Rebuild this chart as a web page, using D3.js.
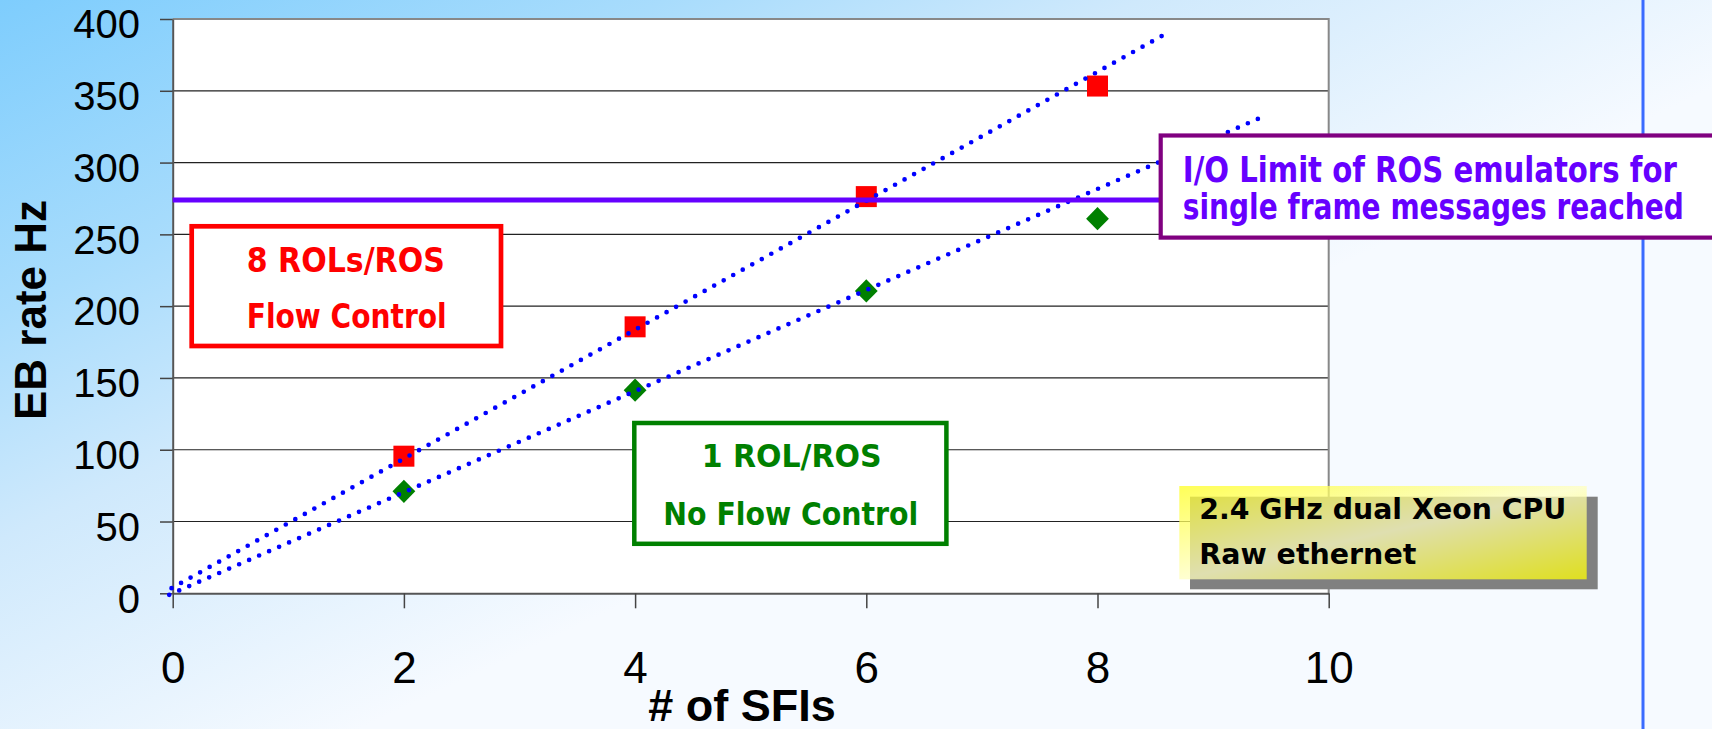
<html>
<head>
<meta charset="utf-8">
<script src="https://d3js.org/d3.v7.min.js"></script>
<style>
  body { margin: 0; overflow: hidden; }
  svg { display: block; }
</style>
</head>
<body></body>
<script>
const W = 1712, H = 729;

// data
const sfis = [2, 4, 6, 8];
const rate8Rol = [95.5, 185.6, 276.3, 353.3];   // 8 ROLs/ROS, flow control
const rate1Rol = [71, 141.5, 210.6, 260.9];     // 1 ROL/ROS, no flow control
const trendSlope = [44.9, 35.2];
const trendIntercept = [4, 0];
const trendFrom = [-0.01, -0.03];
const trendTo = [8.58, 9.41];
const ioLimit = 274;
const xTicks = [0, 2, 4, 6, 8, 10];
const yTicks = [0, 50, 100, 150, 200, 250, 300, 350, 400];
const xTitle = '# of SFIs';
const yTitle = 'EB rate Hz';
const redLabel = ['8 ROLs/ROS', 'Flow Control'];
const greenLabel = ['1 ROL/ROS', 'No Flow Control'];
const limitLabel = ['I/O Limit of ROS emulators for', 'single frame messages reached'];
const cpuLabel = ['2.4 GHz dual Xeon CPU', 'Raw ethernet'];

const plotL = 172.7, plotR = 1328.7, plotT = 19, plotB = 593.3;
const x = d3.scaleLinear().domain([0, 10]).range([plotL, plotR]);
const y = d3.scaleLinear().domain([0, 400]).range([plotB, plotT]);

const svg = d3.select('body').append('svg')
    .attr('width', W)
    .attr('height', H);

const defs = svg.append('defs');
const bg = defs.append('linearGradient')
    .attr('id', 'bg')
    .attr('gradientUnits', 'userSpaceOnUse')
    .attr('x1', 0).attr('y1', 0)
    .attr('x2', 348).attr('y2', 735);
[[0, '#7ecdfd'], [0.35, '#a8dcfc'], [0.6, '#cfe9fc'], [1, '#f6faff']].forEach(s => {
    bg.append('stop').attr('offset', s[0]).attr('stop-color', s[1]);
});
const yel = defs.append('linearGradient')
    .attr('id', 'yel')
    .attr('x1', 0).attr('y1', 0).attr('x2', 1).attr('y2', 1);
[[0, '#ffff20'], [0.5, '#ffffc0'], [1, '#ffff00']].forEach(s => {
    yel.append('stop').attr('offset', s[0]).attr('stop-color', s[1]);
});

svg.append('rect')
    .attr('width', W).attr('height', H)
    .attr('fill', 'url(#bg)');

// slide divider on the right
svg.append('line')
    .attr('x1', 1643).attr('x2', 1643)
    .attr('y1', 0).attr('y2', H)
    .attr('stroke', '#3a6bff')
    .attr('stroke-width', 3);

// plot area
svg.append('rect')
    .attr('x', plotL).attr('y', plotT)
    .attr('width', plotR - plotL).attr('height', plotB - plotT)
    .attr('fill', '#fff');

svg.append('g')
    .selectAll('line')
    .data(yTicks.filter(d => d > 0 && d < 400))
    .enter()
    .append('line')
        .attr('x1', plotL).attr('x2', plotR)
        .attr('y1', d => y(d)).attr('y2', d => y(d))
        .attr('stroke', '#222')
        .attr('stroke-width', 1.2);

svg.append('path')
    .attr('d', `M${plotL},${plotT}H${plotR}V${plotB}`)
    .attr('fill', 'none')
    .attr('stroke', '#888')
    .attr('stroke-width', 2);

const yAxis = svg.append('g')
    .attr('transform', `translate(${plotL},0)`)
    .call(d3.axisLeft(y).tickValues(yTicks).tickSize(12.7).tickSizeOuter(0).tickPadding(20));
yAxis.selectAll('text')
    .attr('dy', '0.47em')
    .attr('font-size', 40)
    .attr('font-family', 'Liberation Sans, Arial, sans-serif')
    .attr('fill', '#000');

const xAxis = svg.append('g')
    .attr('transform', `translate(0,${plotB})`)
    .call(d3.axisBottom(x).tickValues(xTicks).tickSize(15).tickSizeOuter(0));
xAxis.selectAll('text')
    .attr('y', 89.5)
    .attr('dy', 0)
    .attr('font-size', 44)
    .attr('font-family', 'Liberation Sans, Arial, sans-serif')
    .attr('fill', '#000');

[yAxis, xAxis].forEach(g => {
    g.select('.domain').attr('stroke', '#555').attr('stroke-width', 2);
    g.selectAll('.tick line').attr('stroke', '#444').attr('stroke-width', 1.5);
});

svg.append('text')
    .attr('x', 742).attr('y', 721)
    .attr('text-anchor', 'middle')
    .attr('font-family', 'Liberation Sans, Arial, sans-serif')
    .attr('font-weight', 'bold')
    .attr('font-size', 45)
    .text(xTitle);

svg.append('text')
    .attr('transform', 'translate(46,310) rotate(-90)')
    .attr('text-anchor', 'middle')
    .attr('font-family', 'Liberation Sans, Arial, sans-serif')
    .attr('font-weight', 'bold')
    .attr('font-size', 44)
    .text(yTitle);

// markers
svg.append('g')
    .selectAll('rect')
    .data(sfis)
    .enter()
    .append('rect')
        .attr('x', d => x(d) - 10.5)
        .attr('y', (d, i) => y(rate8Rol[i]) - 10.5)
        .attr('width', 21).attr('height', 21)
        .attr('fill', '#ff0000');

svg.append('g')
    .selectAll('path')
    .data(sfis)
    .enter()
    .append('path')
        .attr('transform', (d, i) => `translate(${x(d)},${y(rate1Rol[i])})`)
        .attr('d', 'M0,-11.6L11.4,0L0,11.6L-11.4,0Z')
        .attr('fill', '#008000');

// dotted trendlines
svg.append('g')
    .selectAll('line')
    .data(trendSlope)
    .enter()
    .append('line')
        .attr('x1', (d, i) => x(trendFrom[i]))
        .attr('y1', (d, i) => y(trendIntercept[i] + d * trendFrom[i]))
        .attr('x2', (d, i) => x(trendTo[i]))
        .attr('y2', (d, i) => y(trendIntercept[i] + d * trendTo[i]))
        .attr('stroke', '#0000ff')
        .attr('stroke-width', 4.7)
        .attr('stroke-linecap', 'round')
        .attr('stroke-dasharray', '0 10.9');

// I/O limit line
svg.append('line')
    .attr('x1', plotL).attr('x2', 1162)
    .attr('y1', y(ioLimit)).attr('y2', y(ioLimit))
    .attr('stroke', '#6600ff')
    .attr('stroke-width', 5);

const boxFont = 'DejaVu Sans, Verdana, sans-serif';

function labelBox(box, lines, opts) {
    svg.append('rect')
        .attr('x', box[0]).attr('y', box[1])
        .attr('width', box[2]).attr('height', box[3])
        .attr('fill', '#fff')
        .attr('stroke', opts.stroke)
        .attr('stroke-width', opts.sw);
    lines.forEach((t, i) => {
        svg.append('text')
            .attr('x', opts.xs[i])
            .attr('y', opts.ys[i])
            .attr('text-anchor', opts.anchor)
            .attr('font-family', boxFont)
            .attr('font-weight', 'bold')
            .attr('font-size', opts.fs)
            .attr('fill', opts.fill)
            .attr('textLength', opts.lens[i])
            .attr('lengthAdjust', 'spacingAndGlyphs')
            .text(t);
    });
}

labelBox([191.7, 226.3, 309.3, 119.7], redLabel, {
    stroke: '#ff0000', sw: 4.7, fill: '#ff0000', fs: 33.5, anchor: 'middle',
    xs: [345.8, 346.7], ys: [271.7, 328.3], lens: [198, 200]
});

labelBox([634.3, 423, 312.1, 120.8], greenLabel, {
    stroke: '#008000', sw: 4.5, fill: '#008000', fs: 32.5, anchor: 'middle',
    xs: [791.7, 790.8], ys: [466.7, 525], lens: [180, 255]
});

labelBox([1160.7, 135.5, 600, 102.1], limitLabel, {
    stroke: '#800080', sw: 4.2, fill: '#6600ff', fs: 35, anchor: 'start',
    xs: [1182.8, 1182.8], ys: [182, 218.5], lens: [494, 501]
});

// yellow note with shadow
svg.append('rect')
    .attr('x', 1190).attr('y', 496.7)
    .attr('width', 407.7).attr('height', 92.6)
    .attr('fill', '#808080');
svg.append('rect')
    .attr('x', 1179.3).attr('y', 486)
    .attr('width', 407.4).attr('height', 93.3)
    .attr('fill', 'url(#yel)')
    .attr('fill-opacity', 0.75);
cpuLabel.forEach((t, i) => {
    svg.append('text')
        .attr('x', 1199.3)
        .attr('y', [519, 564][i])
        .attr('font-family', boxFont)
        .attr('font-weight', 'bold')
        .attr('font-size', 29)
        .attr('fill', '#000')
        .attr('textLength', [367, 217][i])
        .attr('lengthAdjust', 'spacingAndGlyphs')
        .text(t);
});
</script>
</html>
